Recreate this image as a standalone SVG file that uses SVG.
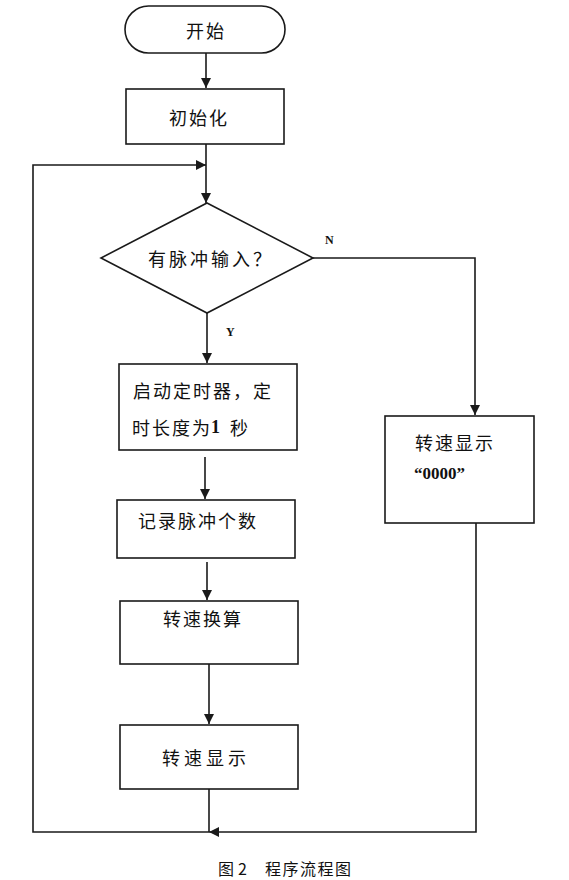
<svg xmlns="http://www.w3.org/2000/svg" width="569" height="880" viewBox="0 0 569 880">
<style>
.s{fill:#fff;stroke:#1a1a1a;stroke-width:1.6}
.c{fill:none;stroke:#1a1a1a;stroke-width:1.6}
.t{font-family:"Noto Sans CJK SC","Noto Sans",sans-serif;font-size:18px;fill:#111;letter-spacing:2px;dominant-baseline:central}
.b{font-family:"Liberation Serif",serif;font-weight:bold;fill:#111;dominant-baseline:central}
.cap{font-family:"Noto Sans CJK SC","Noto Sans",sans-serif;font-size:16px;fill:#111;dominant-baseline:central;letter-spacing:1.5px}
</style>
<defs>
<marker id="ah" viewBox="0 0 10 10" refX="10" refY="5" markerWidth="10" markerHeight="10" markerUnits="userSpaceOnUse" orient="auto">
<path d="M0,0 L10,5 L0,10 Z" fill="#1a1a1a"/>
</marker>
</defs>
<rect width="569" height="880" fill="#fff"/>
<g id="connectors">
<line class="c" x1="206" y1="53" x2="206" y2="88" marker-end="url(#ah)"/>
<line class="c" x1="206" y1="144" x2="206" y2="203" marker-end="url(#ah)"/>
<polyline class="c" points="209,832 33,832 33,165 206,165" marker-end="url(#ah)"/>
<line class="c" x1="207" y1="313" x2="207" y2="363" marker-end="url(#ah)"/>
<polyline class="c" points="313,258 475,258 475,415" marker-end="url(#ah)"/>
<line class="c" x1="205" y1="457" x2="205" y2="499" marker-end="url(#ah)"/>
<line class="c" x1="207" y1="562" x2="207" y2="600" marker-end="url(#ah)"/>
<line class="c" x1="209" y1="664" x2="209" y2="724" marker-end="url(#ah)"/>
<line class="c" x1="209" y1="789" x2="209" y2="832"/>
<polyline class="c" points="476,523 476,832 209,832" marker-end="url(#ah)"/>
<text class="b" x="325" y="240" font-size="12">N</text>
<text class="b" x="226" y="332" font-size="12">Y</text>
</g>
<g id="start">
<rect class="s" x="125" y="6" width="160" height="47" rx="23.5"/>
<text class="t" x="206" y="30" text-anchor="middle">开始</text>
</g>
<g id="init">
<rect class="s" x="126" y="89" width="158" height="55"/>
<text class="t" x="199" y="117" text-anchor="middle">初始化</text>
</g>
<g id="decision">
<polygon class="s" points="207,203 313,258 207,313 101,258"/>
<text class="t" x="211" y="258" text-anchor="middle" style="letter-spacing:3px">有脉冲输入？</text>
</g>
<g id="timer">
<rect class="s" x="119" y="364" width="178" height="86"/>
<text class="t" x="133" y="390">启动定时器，定</text>
<text class="t" x="132" y="427">时长度为<tspan class="b" font-size="18" dx="-1" style="letter-spacing:0">1</tspan><tspan dx="10">秒</tspan></text>
</g>
<g id="count">
<rect class="s" x="117" y="500" width="178" height="58"/>
<text class="t" x="138" y="520">记录脉冲个数</text>
</g>
<g id="zero">
<rect class="s" x="385" y="416" width="149" height="107"/>
<text class="t" x="415" y="442">转速显示</text>
<text class="b" x="414" y="473" font-size="17">“0000”</text>
</g>
<g id="calc">
<rect class="s" x="120" y="601" width="178" height="63"/>
<text class="t" x="203" y="618" text-anchor="middle">转速换算</text>
</g>
<g id="show">
<rect class="s" x="120" y="725" width="178" height="64"/>
<text class="t" x="206" y="757" text-anchor="middle" style="letter-spacing:4px">转速显示</text>
</g>
<text class="cap" y="868"><tspan x="218">图</tspan><tspan x="238">2</tspan><tspan x="265">程序流程图</tspan></text>
</svg>
